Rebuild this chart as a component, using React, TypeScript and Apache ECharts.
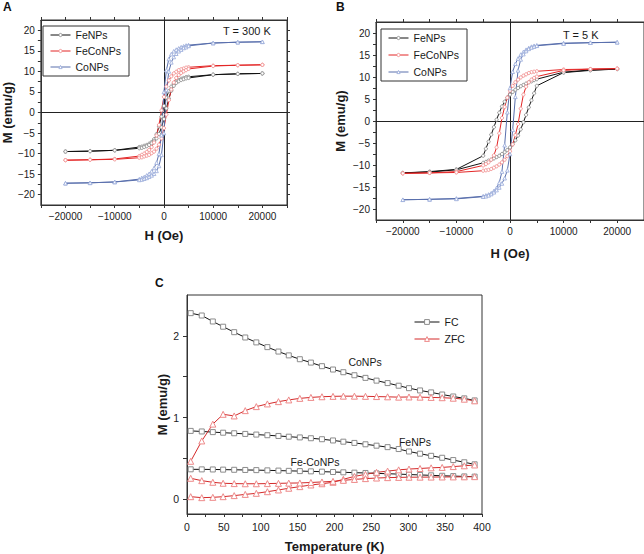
import React, { useEffect, useRef } from 'react';
import * as echarts from 'echarts';

// ---------- Panels A & B : hysteresis loops ----------
const H_DOWN = [20000, 15000, 10000, 5000, 4500, 4000, 3500, 3000, 2500, 2000, 1500, 1000, 500, 0, -500, -1000, -1500, -2000, -2500, -3000, -3500, -4000, -4500, -5000, -10000, -15000, -20000];
const H_UP = [-20000, -15000, -10000, -5000, -4500, -4000, -3500, -3000, -2500, -2000, -1500, -1000, -500, 0, 500, 1000, 1500, 2000, 2500, 3000, 3500, 4000, 4500, 5000, 10000, 15000, 20000];

// A : T = 300 K
const A_FE_DOWN = [9.5, 9.4, 9.2, 8.7, 8.6, 8.4, 8.2, 7.9, 7.5, 7.0, 6.3, 5.2, 3.6, 1.6, -1.0, -3.4, -5.3, -6.5, -7.2, -7.6, -7.9, -8.1, -8.3, -8.4, -9.2, -9.4, -9.5];
const A_FE_UP = [-9.5, -9.4, -9.2, -8.7, -8.6, -8.4, -8.2, -7.9, -7.5, -7.0, -6.3, -5.2, -3.6, -1.6, 1.0, 3.4, 5.3, 6.5, 7.2, 7.6, 7.9, 8.1, 8.3, 8.4, 9.2, 9.4, 9.5];
const A_FECO_DOWN = [11.6, 11.5, 11.4, 11.0, 10.9, 10.7, 10.5, 10.3, 9.9, 9.5, 8.8, 7.8, 6.3, 3.8, 0.5, -3.0, -5.6, -7.3, -8.4, -9.1, -9.6, -10.0, -10.3, -10.6, -11.3, -11.5, -11.6];
const A_FECO_UP = [-11.6, -11.5, -11.4, -11.0, -10.9, -10.7, -10.5, -10.3, -9.9, -9.5, -8.8, -7.8, -6.3, -3.8, -0.5, 3.0, 5.6, 7.3, 8.4, 9.1, 9.6, 10.0, 10.3, 10.6, 11.3, 11.5, 11.6];
const A_CO_DOWN = [17.2, 17.1, 16.9, 16.4, 16.3, 16.1, 15.9, 15.6, 15.3, 14.9, 14.2, 13.0, 10.3, 5.0, -5.5, -10.0, -12.2, -13.5, -14.3, -14.9, -15.3, -15.7, -15.9, -16.2, -16.9, -17.1, -17.2];
const A_CO_UP = [-17.2, -17.1, -16.9, -16.4, -16.3, -16.1, -15.9, -15.6, -15.3, -14.9, -14.2, -13.0, -10.3, -5.0, 5.5, 10.0, 12.2, 13.5, 14.3, 14.9, 15.3, 15.7, 15.9, 16.2, 16.9, 17.1, 17.2];

// B : T = 5 K
const B_FE_DOWN = [11.8, 11.6, 11.1, 9.5, 9.3, 9.0, 8.8, 8.5, 8.2, 7.9, 7.5, 7.1, 6.6, 6.0, 5.3, 4.4, 3.3, 1.9, 0.3, -1.4, -3.1, -4.7, -6.3, -7.9, -11.0, -11.5, -11.8];
const B_FE_UP = [-11.8, -11.6, -11.1, -9.5, -9.3, -9.0, -8.8, -8.5, -8.2, -7.9, -7.5, -7.1, -6.6, -6.0, -5.3, -4.4, -3.3, -1.9, -0.3, 1.4, 3.1, 4.7, 6.3, 8.0, 11.0, 11.5, 11.8];
const B_FECO_DOWN = [11.9, 11.8, 11.7, 11.3, 11.2, 11.1, 10.9, 10.6, 10.3, 9.9, 9.4, 8.8, 8.0, 6.9, 5.3, 3.2, 0.7, -2.8, -6.0, -7.8, -8.8, -9.4, -9.8, -10.1, -11.5, -11.8, -11.9];
const B_FECO_UP = [-11.9, -11.8, -11.7, -11.3, -11.2, -11.1, -10.9, -10.6, -10.3, -9.9, -9.4, -8.8, -8.0, -6.9, -5.3, -3.2, -0.7, 2.8, 6.0, 7.8, 8.8, 9.4, 9.8, 10.1, 11.5, 11.8, 11.9];
const B_CO_DOWN = [17.9, 17.8, 17.7, 17.2, 17.1, 16.9, 16.6, 16.2, 15.7, 15.1, 14.2, 13.0, 11.2, 7.5, 2.0, -5.5, -11.5, -14.0, -15.2, -15.9, -16.4, -16.7, -16.9, -17.1, -17.6, -17.8, -17.9];
const B_CO_UP = [-17.9, -17.8, -17.7, -17.2, -17.1, -16.9, -16.6, -16.2, -15.7, -15.1, -14.2, -13.0, -11.2, -7.5, -2.0, 5.5, 11.5, 14.0, 15.2, 15.9, 16.4, 16.7, 16.9, 17.1, 17.6, 17.8, 17.9];

const X_LABELS_AB = [-20000, -10000, 0, 10000, 20000];
const X_TICKS_AB = [-25000, -20000, -15000, -10000, -5000, 0, 5000, 10000, 15000, 20000, 25000];
const Y_LABELS_AB = [-20, -15, -10, -5, 0, 5, 10, 15, 20];
const Y_TICKS_AB = [-20, -17.5, -15, -12.5, -10, -7.5, -5, -2.5, 0, 2.5, 5, 7.5, 10, 12.5, 15, 17.5, 20];

// ---------- Panel C : FC / ZFC ----------
const TEMP = [5, 20, 35, 49, 64, 79, 94, 109, 124, 138, 153, 168, 183, 198, 212, 227, 242, 257, 272, 287, 301, 316, 331, 346, 361, 376, 390];
const CO_FC = [2.278, 2.249, 2.176, 2.112, 2.045, 1.98, 1.92, 1.862, 1.808, 1.761, 1.714, 1.673, 1.629, 1.588, 1.555, 1.518, 1.486, 1.452, 1.422, 1.39, 1.36, 1.332, 1.308, 1.282, 1.258, 1.235, 1.21];
const CO_ZFC = [0.465, 0.714, 0.92, 1.04, 1.02, 1.085, 1.134, 1.167, 1.195, 1.216, 1.235, 1.247, 1.255, 1.26, 1.262, 1.262, 1.26, 1.257, 1.254, 1.25, 1.252, 1.25, 1.247, 1.243, 1.237, 1.225, 1.205];
const FE_FC = [0.837, 0.83, 0.822, 0.815, 0.808, 0.8, 0.792, 0.784, 0.775, 0.766, 0.757, 0.747, 0.735, 0.72, 0.705, 0.69, 0.673, 0.656, 0.638, 0.615, 0.585, 0.558, 0.532, 0.508, 0.48, 0.453, 0.428];
const FE_ZFC = [0.032, 0.02, 0.024, 0.032, 0.045, 0.06, 0.073, 0.093, 0.114, 0.135, 0.155, 0.175, 0.19, 0.208, 0.245, 0.28, 0.305, 0.33, 0.345, 0.36, 0.37, 0.377, 0.385, 0.39, 0.4, 0.41, 0.42];
const FECO_FC = [0.367, 0.366, 0.365, 0.363, 0.361, 0.359, 0.357, 0.354, 0.351, 0.348, 0.345, 0.342, 0.338, 0.334, 0.33, 0.326, 0.322, 0.317, 0.313, 0.308, 0.303, 0.298, 0.293, 0.288, 0.284, 0.28, 0.277];
const FECO_ZFC = [0.257, 0.228, 0.208, 0.196, 0.192, 0.19, 0.19, 0.192, 0.195, 0.198, 0.2, 0.206, 0.212, 0.22, 0.232, 0.243, 0.253, 0.26, 0.265, 0.268, 0.27, 0.271, 0.272, 0.273, 0.274, 0.275, 0.277];

const X_LABELS_C = [0, 50, 100, 150, 200, 250, 300, 350, 400];
const X_TICKS_C = [0, 25, 50, 75, 100, 125, 150, 175, 200, 225, 250, 275, 300, 325, 350, 375, 400];
const Y_LABELS_C = [0, 1, 2];
const Y_TICKS_C = [0, 0.5, 1, 1.5, 2];

const FONT = '"Liberation Sans", Arial, Helvetica, sans-serif';
const AXIS_COLOR = '#333';
const TEXT_COLOR = '#1a1a1a';

const STYLES: Record<string, any> = {
  FeNPs: { line: '#111111', marker: '#8a8a8a', symbol: 'circle', size: 3.2 },
  FeCoNPs: { line: '#e32626', marker: '#f08c8c', symbol: 'circle', size: 3.2 },
  CoNPs: { line: '#5a70ad', marker: '#9fb0dd', symbol: 'triangle', size: 3.6 },
};

const fmt = (v: number) => String(v).replace('-', '\u2212');

function loop(down: number[], up: number[]) {
  return [...H_DOWN.map((h, i) => [h, down[i]]), ...H_UP.map((h, i) => [h, up[i]])];
}

function pairs(xs: number[], ys: number[]) {
  return xs.map((x, i) => [x, ys[i]]);
}

function loopSeries(name: string, data: number[][], axis: number, withCross: boolean) {
  const s = STYLES[name];
  const out: any = {
    type: 'line',
    name,
    data,
    xAxisIndex: axis,
    yAxisIndex: axis,
    symbol: s.symbol,
    symbolSize: s.size,
    showAllSymbol: true,
    color: s.line,
    lineStyle: { color: s.line, width: 1 },
    itemStyle: { color: '#ffffff', borderColor: s.marker, borderWidth: 0.9 },
    emphasis: { disabled: true },
    silent: true,
    z: 3,
  };
  if (withCross) {
    out.markLine = {
      silent: true,
      symbol: 'none',
      label: { show: false },
      lineStyle: { color: '#222', width: 1, type: 'solid' },
      data: [{ xAxis: 0 }, { yAxis: 0 }],
      z: 1,
    };
  }
  return out;
}

function tSeries(name: 'FC' | 'ZFC', ys: number[]) {
  const fc = name === 'FC';
  return {
    type: 'line',
    name,
    data: pairs(TEMP, ys),
    xAxisIndex: 4,
    yAxisIndex: 4,
    symbol: fc ? 'rect' : 'triangle',
    symbolSize: fc ? 5 : 6,
    showAllSymbol: true,
    color: fc ? '#111' : '#d42a2a',
    lineStyle: { color: fc ? '#111' : '#d42a2a', width: 1 },
    itemStyle: { color: '#ffffff', borderColor: fc ? '#8c8c8c' : '#ee8a8a', borderWidth: 1 },
    emphasis: { disabled: true },
    silent: true,
  };
}

const axisTitle = { fontFamily: FONT, fontSize: 13, fontWeight: 'bold', color: TEXT_COLOR };
const tickLabel = (size: number, margin: number) => ({ fontFamily: FONT, fontSize: size, color: TEXT_COLOR, margin, formatter: fmt });

function hAxisAB(grid: number, nameGap: number) {
  return [
    {
      gridIndex: grid, type: 'value', min: -25000, max: 25000, position: 'bottom',
      axisLine: { show: true, onZero: false, lineStyle: { color: AXIS_COLOR, width: 1 } },
      axisTick: { show: true, length: 3, customValues: X_TICKS_AB, lineStyle: { color: AXIS_COLOR } },
      axisLabel: { ...tickLabel(10, 6), customValues: X_LABELS_AB },
      splitLine: { show: false },
      name: 'H (Oe)', nameLocation: 'middle', nameGap, nameTextStyle: axisTitle,
    },
    {
      gridIndex: grid, type: 'value', min: -25000, max: 25000, position: 'top',
      axisLine: { show: true, onZero: false, lineStyle: { color: AXIS_COLOR, width: 1 } },
      axisTick: { show: true, length: 3, customValues: X_TICKS_AB, lineStyle: { color: AXIS_COLOR } },
      axisLabel: { show: false },
      splitLine: { show: false },
    },
  ];
}

function mAxisAB(grid: number, nameGap: number) {
  return [
    {
      gridIndex: grid, type: 'value', min: -22.5, max: 22.5, position: 'left',
      axisLine: { show: true, onZero: false, lineStyle: { color: AXIS_COLOR, width: 1 } },
      axisTick: { show: true, length: 3, customValues: Y_TICKS_AB, lineStyle: { color: AXIS_COLOR } },
      axisLabel: { ...tickLabel(10, 6), customValues: Y_LABELS_AB },
      splitLine: { show: false },
      name: 'M (emu/g)', nameLocation: 'middle', nameRotate: 90, nameGap, nameTextStyle: axisTitle,
    },
    {
      gridIndex: grid, type: 'value', min: -22.5, max: 22.5, position: 'right',
      axisLine: { show: true, onZero: false, lineStyle: { color: AXIS_COLOR, width: 1 } },
      axisTick: { show: true, length: 3, customValues: Y_TICKS_AB, lineStyle: { color: AXIS_COLOR } },
      axisLabel: { show: false },
      splitLine: { show: false },
    },
  ];
}

function loopLegend(left: number, top: number, gap: number) {
  return {
    left, top, orient: 'vertical',
    data: ['FeNPs', 'FeCoNPs', 'CoNPs'],
    borderColor: '#333', borderWidth: 1, backgroundColor: '#fff',
    padding: [3, 8, 3, 7], itemGap: gap, itemWidth: 20, itemHeight: 4,
    selectedMode: false,
    lineStyle: { width: 1 },
    itemStyle: { borderWidth: 0.9 },
    textStyle: { fontFamily: FONT, fontSize: 10.5, color: TEXT_COLOR, lineHeight: 12 },
  };
}

function buildOption(): any {
  const [ax0, ax1] = hAxisAB(0, 24);
  const [bx0, bx1] = hAxisAB(1, 27);
  const [ay0, ay1] = mAxisAB(0, 22);
  const [by0, by1] = mAxisAB(1, 29);
  return {
    animation: false,
    backgroundColor: '#ffffff',
    textStyle: { fontFamily: FONT },
    grid: [
      { left: 36, top: 20, width: 251, height: 185, show: true, borderColor: AXIS_COLOR, borderWidth: 1, backgroundColor: 'transparent' },
      { left: 376, top: 22, width: 268, height: 198, show: true, borderColor: AXIS_COLOR, borderWidth: 1, backgroundColor: 'transparent' },
      { left: 187, top: 295, width: 295, height: 219, show: true, borderColor: AXIS_COLOR, borderWidth: 1, backgroundColor: 'transparent' },
    ],
    xAxis: [
      ax0, ax1, bx0, bx1,
      {
        gridIndex: 2, type: 'value', min: 0, max: 400, position: 'bottom',
        axisLine: { show: true, onZero: false, lineStyle: { color: AXIS_COLOR, width: 1 } },
        axisTick: { show: true, length: 3, customValues: X_TICKS_C, lineStyle: { color: AXIS_COLOR } },
        axisLabel: { ...tickLabel(10.5, 7), customValues: X_LABELS_C },
        splitLine: { show: false },
        name: 'Temperature (K)', nameLocation: 'middle', nameGap: 26, nameTextStyle: axisTitle,
      },
    ],
    yAxis: [
      ay0, ay1, by0, by1,
      {
        gridIndex: 2, type: 'value', min: -0.18, max: 2.5, position: 'left',
        axisLine: { show: true, onZero: false, lineStyle: { color: AXIS_COLOR, width: 1 } },
        axisTick: { show: true, length: 4, customValues: Y_TICKS_C, lineStyle: { color: AXIS_COLOR } },
        axisLabel: { ...tickLabel(10.5, 8), customValues: Y_LABELS_C },
        splitLine: { show: false },
        name: 'M (emu/g)', nameLocation: 'middle', nameRotate: 90, nameGap: 18, nameTextStyle: axisTitle,
      },
    ],
    legend: [
      loopLegend(43, 26, 4),
      loopLegend(381, 29, 5),
      {
        left: 409, top: 311, orient: 'vertical', data: ['FC', 'ZFC'],
        itemGap: 5, itemWidth: 25, itemHeight: 6, selectedMode: false,
        lineStyle: { width: 1 },
        itemStyle: { borderWidth: 1 },
        textStyle: { fontFamily: FONT, fontSize: 10.5, color: TEXT_COLOR, lineHeight: 12 },
      },
    ],
    series: [
      loopSeries('FeNPs', loop(A_FE_DOWN, A_FE_UP), 0, true),
      loopSeries('FeCoNPs', loop(A_FECO_DOWN, A_FECO_UP), 0, false),
      loopSeries('CoNPs', loop(A_CO_DOWN, A_CO_UP), 0, false),
      loopSeries('FeNPs', loop(B_FE_DOWN, B_FE_UP), 2, true),
      loopSeries('FeCoNPs', loop(B_FECO_DOWN, B_FECO_UP), 2, false),
      loopSeries('CoNPs', loop(B_CO_DOWN, B_CO_UP), 2, false),
      tSeries('FC', CO_FC),
      tSeries('FC', FE_FC),
      tSeries('FC', FECO_FC),
      tSeries('ZFC', CO_ZFC),
      tSeries('ZFC', FE_ZFC),
      tSeries('ZFC', FECO_ZFC),
    ],
    graphic: [
      { type: 'text', left: 3, top: 1, style: { text: 'A', font: `bold 12px ${FONT}`, fill: '#111' } },
      { type: 'text', left: 336, top: 1, style: { text: 'B', font: `bold 12px ${FONT}`, fill: '#111' } },
      { type: 'text', left: 155, top: 277, style: { text: 'C', font: `bold 12px ${FONT}`, fill: '#111' } },
      { type: 'text', x: 223, y: 31, style: { text: 'T = 300 K', font: `11px ${FONT}`, fill: TEXT_COLOR, verticalAlign: 'middle' } },
      { type: 'text', x: 563, y: 35, style: { text: 'T = 5 K', font: `11px ${FONT}`, fill: TEXT_COLOR, verticalAlign: 'middle' } },
      { type: 'text', x: 365, y: 362, style: { text: 'CoNPs', font: `10.5px ${FONT}`, fill: TEXT_COLOR, align: 'center', verticalAlign: 'middle' } },
      { type: 'text', x: 415, y: 442, style: { text: 'FeNPs', font: `10.5px ${FONT}`, fill: TEXT_COLOR, align: 'center', verticalAlign: 'middle' } },
      { type: 'text', x: 315, y: 462, style: { text: 'Fe-CoNPs', font: `10.5px ${FONT}`, fill: TEXT_COLOR, align: 'center', verticalAlign: 'middle' } },
    ],
  };
}

export default function App() {
  const ref = useRef<HTMLDivElement>(null);
  useEffect(() => {
    if (!ref.current) return;
    const chart = echarts.init(ref.current, undefined, { renderer: 'svg' });
    chart.setOption(buildOption());
    return () => chart.dispose();
  }, []);
  return (
    <div
      ref={ref}
      style={{ position: 'absolute', left: 0, top: 0, width: 644, height: 554, background: '#fff' }}
    />
  );
}
